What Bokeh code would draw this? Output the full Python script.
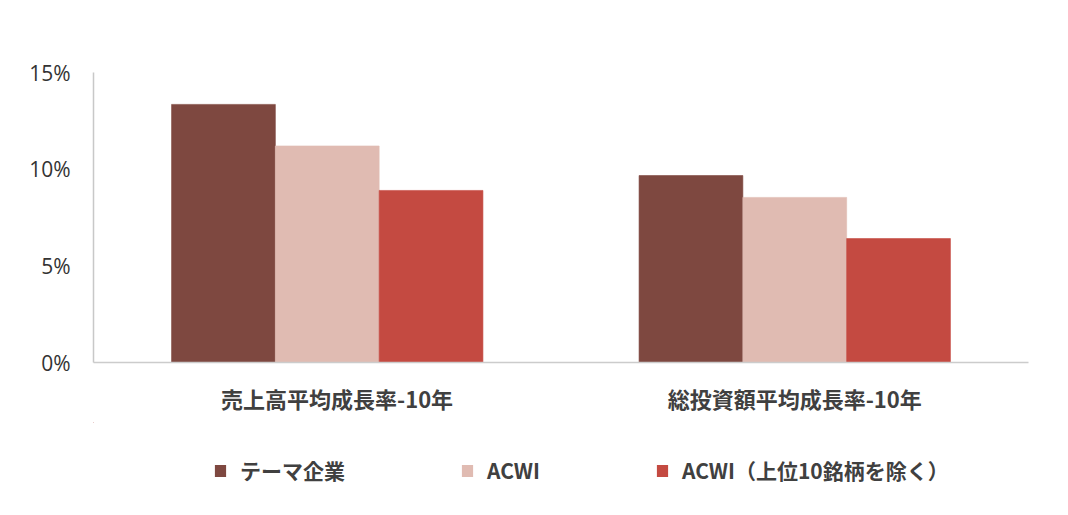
from bokeh.plotting import figure
from bokeh.layouts import column
from bokeh.models import ColumnDataSource, Range1d, FixedTicker, Legend, LegendItem, NumeralTickFormatter
from bokeh.embed import file_html
from bokeh.resources import INLINE

categories = ["売上高平均成長率-10年", "総投資額平均成長率-10年"]
series_names = ["テーマ企業", "ACWI", "ACWI（上位10銘柄を除く）"]
theme = [13.35, 9.67]
acwi = [11.2, 8.54]
acwi_ex10 = [8.9, 6.41]
colors = ["#7E4840", "#E0BBB2", "#C44A41"]
y_ticks = [0, 5, 10, 15]

FONT = "Noto Sans CJK JP"

p = figure(frame_width=935, frame_height=290, output_backend="svg", toolbar_location=None,
           x_range=Range1d(0, 2), y_range=Range1d(0, 15))
p.min_border_left = 93
p.min_border_right = 30
p.min_border_top = 72
p.min_border_bottom = 60
p.outline_line_color = None
p.xgrid.visible = False
p.ygrid.visible = False

offsets = [-0.222, 0.0, 0.222]
width = 0.222
series = [theme, acwi, acwi_ex10]
for i, vals in enumerate(series):
    src = ColumnDataSource(dict(x=[j + 0.5 + offsets[i] for j in range(len(categories))], top=vals))
    p.vbar(x="x", top="top", width=width, bottom=0, source=src,
           fill_color=colors[i], line_color=colors[i], line_alpha=0.6, line_width=1)

# x axis
label_pos = [0.521, 1.5]
p.xaxis.ticker = FixedTicker(ticks=label_pos)
p.xaxis.major_label_overrides = {label_pos[0]: categories[0], label_pos[1]: categories[1]}
p.xaxis.major_tick_line_color = None
p.xaxis.minor_tick_line_color = None
p.xaxis.axis_line_color = "#CCCCCC"
p.xaxis.axis_line_width = 1.5
p.xaxis.major_label_text_font = FONT
p.xaxis.major_label_text_font_size = "22px"
p.xaxis.major_label_text_font_style = "bold"
p.xaxis.major_label_text_color = "#404040"
p.xaxis.major_label_standoff = 13

# y axis
p.yaxis.ticker = FixedTicker(ticks=y_ticks)
p.yaxis.formatter = NumeralTickFormatter(format="0")
p.yaxis.major_label_overrides = {t: f"{t}%" for t in y_ticks}
p.yaxis.major_tick_line_color = None
p.yaxis.minor_tick_line_color = None
p.yaxis.axis_line_color = "#C8C8C8"
p.yaxis.axis_line_width = 1.5
p.yaxis.major_label_text_font = "Open Sans"
p.yaxis.major_label_text_font_size = "21px"
p.yaxis.major_label_text_color = "#333333"
p.yaxis.major_label_standoff = 17

# legend strip (its bars sit far outside the strip's visible ranges; only the legend shows)
p2 = figure(width=1058, height=90, output_backend="svg", toolbar_location=None,
            x_range=Range1d(50, 51), y_range=Range1d(-60, -59))
p2.min_border = 0
p2.outline_line_color = None
p2.axis.visible = False
p2.grid.visible = False
legend_renderers = []
for i, vals in enumerate(series):
    src = ColumnDataSource(dict(x=[j + 0.5 + offsets[i] for j in range(len(categories))], top=vals))
    r = p2.vbar(x="x", top="top", width=width, bottom=0, source=src,
                fill_color=colors[i], line_color=None)
    legend_renderers.append(r)

legend = Legend(items=[LegendItem(label=series_names[i], renderers=[legend_renderers[i]]) for i in range(3)],
                orientation="horizontal", location=(120, 27))
legend.label_text_font = FONT
legend.label_text_font_size = "21px"
legend.label_text_font_style = "bold"
legend.label_text_color = "#404040"
legend.glyph_width = 14
legend.glyph_height = 15
legend.label_standoff = 13
legend.spacing = 115
legend.border_line_color = None
legend.background_fill_alpha = 0
legend.margin = 0
legend.padding = 0
p2.add_layout(legend, "center")

layout = column(p, p2, spacing=0)
open("out.html", "w").write(file_html(layout, INLINE))
